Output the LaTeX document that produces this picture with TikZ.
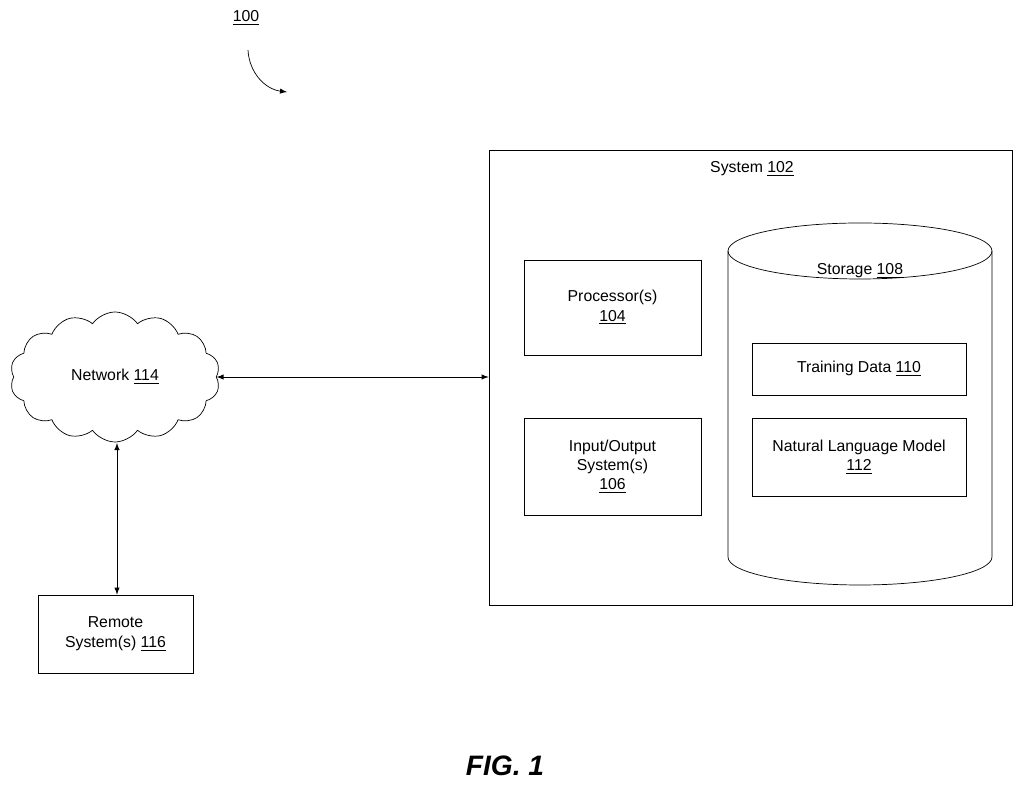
\documentclass[tikz,border=0pt]{standalone}
\usepackage{fontspec}
\setmainfont{Liberation Sans}
\usetikzlibrary{arrows,positioning,shapes,calc}
\begin{document}
\begin{tikzpicture}[
    every node/.style={font=\fontsize{9}{11}\selectfont},
    box/.style={draw,rectangle,align=center,inner sep=0pt},
    link/.style={<->,>=latex,thin}]
    \useasboundingbox (0,0) rectangle (20.48,15.76);
    % Label
    \node (lbl) at (4.92,15.4) {\underline{100}};
    \draw[->,>=latex] (4.96,14.76) to[bend right=40] (5.74,13.92);
    % System
    \node[box,minimum width=10.46cm,minimum height=9.1cm] (sys) at (15.01,8.21) {};
    \node (systxt) at (15.04,12.38) {System \underline{102}};
    \node[box,minimum width=3.54cm,minimum height=1.9cm] (proc) at (12.25,9.61) {Processor(s)\\\underline{104}};
    \node[box,minimum width=3.54cm,minimum height=1.94cm] (io) at (12.25,6.43) {Input/Output\\System(s)\\\underline{106}};
    % Storage
    \draw (14.56,10.74) -- (14.56,4.62) arc[start angle=180,end angle=360,x radius=2.64,y radius=0.56]
        -- (19.84,10.74);
    \draw (17.2,10.74) ellipse[x radius=2.64,y radius=0.56];
    \node (stor) at (17.2,10.34) {Storage \underline{108}};
    \node[box,minimum width=4.28cm,minimum height=1.04cm] (train) at (17.18,8.38) {Training Data \underline{110}};
    \node[box,minimum width=4.28cm,minimum height=1.56cm] (nlm) at (17.18,6.62) {Natural Language Model\\\underline{112}};
    % Network
    \node[draw,cloud,cloud puffs=14,cloud puff arc=110,aspect=1.8,minimum width=4.2cm,minimum height=2.6cm] (net) at (2.3,8.22) {Network \underline{114}};
    \node[box,minimum width=3.1cm,minimum height=1.56cm] (rem) at (2.31,3.08) {Remote\\System(s) \underline{116}};
    % Arrows
    \draw[link] (net.east) -- (sys.west |- net.east);
    \draw[link] (rem.north -| 2.34,0) -- (2.34,6.9);
    \node[font=\fontsize{16}{18}\selectfont\bfseries\itshape] (fig) at (10.1,0.44) {FIG. 1};
\end{tikzpicture}
\end{document}
